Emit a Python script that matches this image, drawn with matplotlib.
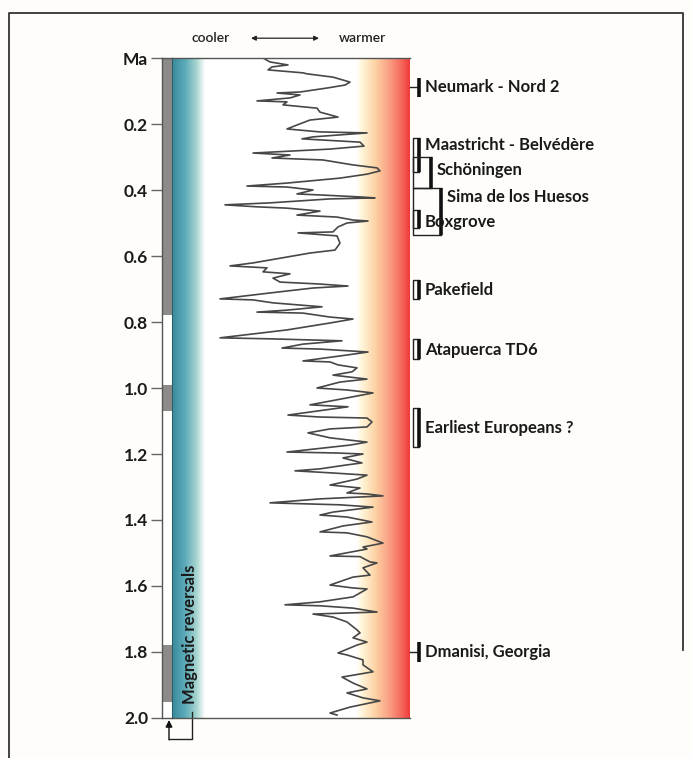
import numpy as np
import matplotlib.pyplot as plt
from matplotlib.colors import LinearSegmentedColormap
from matplotlib.lines import Line2D
import matplotlib.transforms as mtransforms

plt.rcParams['font.family'] = ['Lato', 'DejaVu Sans']

# benthic d18O record (age in ka, d18O per mil)
age_ka = [0, 12, 21, 27, 36, 45, 48, 58, 73, 82, 91, 103, 106, 112, 121, 130, 133, 142,
          152, 164, 179, 188, 203, 215, 224, 227, 239, 245, 255, 267, 276, 288, 294, 303,
          309, 324, 333, 342, 352, 364, 379, 388, 391, 400, 412, 415, 421, 424, 427, 439,
          445, 451, 455, 464, 476, 482, 491, 494, 500, 512, 527, 530, 539, 561, 582, 591,
          621, 630, 636, 648, 654, 667, 679, 685, 691, 697, 712, 730, 733, 742, 754, 764,
          770, 773, 785, 791, 803, 824, 848, 851, 857, 867, 879, 882, 891, 900, 918, 921,
          930, 939, 951, 961, 973, 982, 1000, 1006, 1015, 1030, 1051, 1057, 1082, 1088,
          1091, 1103, 1118, 1124, 1136, 1151, 1164, 1173, 1194, 1197, 1200, 1212, 1227,
          1233, 1245, 1251, 1257, 1264, 1276, 1294, 1303, 1318, 1321, 1327, 1336, 1348,
          1354, 1361, 1376, 1385, 1391, 1406, 1418, 1436, 1439, 1451, 1470, 1482, 1488,
          1509, 1511, 1527, 1530, 1545, 1567, 1573, 1597, 1606, 1609, 1633, 1648, 1657,
          1660, 1667, 1679, 1685, 1694, 1709, 1733, 1742, 1757, 1770, 1779, 1803, 1809,
          1824, 1839, 1860, 1876, 1894, 1912, 1924, 1939, 1948, 1967, 1985, 1991]
d18o = [4.39, 4.32, 4.14, 4.30, 4.34, 3.99, 3.95, 3.69, 3.52, 3.57, 3.75, 4.02, 4.25, 4.02,
        4.12, 4.45, 4.15, 4.19, 3.85, 3.82, 3.64, 3.92, 4.05, 4.15, 3.82, 3.35, 3.89, 4.00,
        3.42, 3.38, 3.72, 4.49, 4.12, 4.30, 3.79, 3.49, 3.25, 3.22, 3.35, 3.62, 4.15, 4.55,
        4.15, 3.89, 4.05, 3.82, 3.42, 3.27, 3.72, 4.32, 4.77, 4.45, 4.15, 3.82, 4.05, 3.65,
        3.49, 3.34, 3.55, 3.64, 3.69, 4.04, 3.65, 3.62, 3.67, 3.92, 4.49, 4.72, 4.35, 4.39,
        4.12, 4.29, 4.22, 3.82, 3.54, 3.89, 4.32, 4.82, 4.49, 4.29, 3.80, 4.15, 4.45, 3.99,
        3.72, 3.49, 3.72, 4.15, 4.82, 4.32, 3.60, 3.99, 4.20, 3.82, 3.34, 3.55, 3.99, 3.72,
        3.64, 3.45, 3.50, 3.69, 3.35, 3.62, 3.85, 3.55, 3.29, 3.55, 3.92, 3.54, 4.14, 3.82,
        3.35, 3.30, 3.35, 3.72, 3.94, 3.72, 3.35, 3.52, 4.15, 3.65, 3.39, 3.59, 3.40, 3.55,
        3.82, 4.07, 3.72, 3.35, 3.45, 3.72, 3.42, 3.55, 3.35, 3.19, 3.82, 4.32, 3.62, 3.29,
        3.69, 3.82, 3.55, 3.30, 3.59, 3.82, 3.55, 3.35, 3.19, 3.39, 3.35, 3.72, 3.42, 3.32,
        3.25, 3.39, 3.32, 3.49, 3.72, 3.49, 3.35, 3.49, 3.82, 4.17, 3.82, 3.49, 3.25, 3.89,
        3.69, 3.55, 3.45, 3.42, 3.49, 3.35, 3.45, 3.64, 3.55, 3.39, 3.39, 3.29, 3.60, 3.49,
        3.35, 3.55, 3.39, 3.22, 3.52, 3.72, 3.65]

# normal polarity chrons (Ma)
normal_start = [0.0, 0.99, 1.78]
normal_end = [0.78, 1.07, 1.95]

sites = ["Neumark - Nord 2", "Maastricht - Belvédère", "Schöningen", "Sima de los Huesos",
         "Boxgrove", "Pakefield", "Atapuerca TD6", "Earliest Europeans ?", "Dmanisi, Georgia"]
site_start = [0.061, 0.242, 0.300, 0.394, 0.460, 0.673, 0.852, 1.060, 1.770]
site_end = [0.118, 0.345, 0.394, 0.536, 0.515, 0.730, 0.912, 1.180, 1.830]
site_label_y = [0.088, 0.264, 0.339, 0.421, 0.497, 0.703, 0.884, 1.12, 1.80]
site_level = [0, 0, 1, 2, 0, 0, 0, 0, 0]
site_tick = [True, False, False, False, False, False, False, False, True]

ticks = [0, 0.2, 0.4, 0.6, 0.8, 1.0, 1.2, 1.4, 1.6, 1.8, 2.0]
tick_labels = ["Ma", "0.2", "0.4", "0.6", "0.8", "1.0", "1.2", "1.4", "1.6", "1.8", "2.0"]

W, H = 691, 758
bg = '#fefdfa'
fig = plt.figure(figsize=(W / 100, H / 100), dpi=100, facecolor=bg)

def box(x0, y0, x1, y1):
    return [x0 / W, 1 - y1 / H, (x1 - x0) / W, (y1 - y0) / H]

# outer frame
fig.add_artist(Line2D([9 / W, 9 / W, 683 / W, 683 / W], [0, 1 - 13 / H, 1 - 13 / H, 1 - 650 / H],
                      color='#333333', lw=1.3))

# magnetic reversal bar
axm = fig.add_axes(box(162, 58, 172, 718))
axm.set_facecolor('white')
for s, e in zip(normal_start, normal_end):
    axm.axhspan(s, e, color='#8d8a8a', lw=0)
axm.set_ylim(2.0, 0)
axm.set_xlim(0, 1)
axm.set_xticks([])
axm.set_yticks(ticks)
axm.set_yticklabels(tick_labels, fontsize=12.5, fontweight='bold', color='#1a1a1a')
axm.tick_params(axis='y', length=8, width=1, color='#666666', pad=2)
axm.spines['right'].set_visible(False)
for sp in ['left', 'top', 'bottom']:
    axm.spines[sp].set_color('#555555')
    axm.spines[sp].set_linewidth(1)

# main panel
ax = fig.add_axes(box(172, 58, 410, 718))
ax.set_facecolor('white')
x_left, x_right = 5.3, 2.92

blue = LinearSegmentedColormap.from_list('b', [(0, '#378a9c'), (0.4, '#5dabb9'),
                                              (0.75, '#a8d5d0'), (1, '#ffffff')])
red = LinearSegmentedColormap.from_list('r', [(0, '#ffffff'), (0.12, '#fff4d6'),
                                             (0.35, '#fdd4a6'), (0.6, '#faa386'),
                                             (0.85, '#f5675a'), (1, '#ee3a3a')])
grad = np.linspace(0, 1, 256)[None, :]
ax.imshow(grad, cmap=blue, aspect='auto', extent=(5.3, 4.97, 2.0, 0), zorder=0)
ax.imshow(grad, cmap=red, aspect='auto', extent=(3.46, 2.92, 2.0, 0), zorder=0)
ax.set_xlim(x_left, x_right)
ax.set_ylim(2.0, 0)

ax.plot(d18o, np.array(age_ka) / 1000, color='#474747', lw=1.2, zorder=2)

ax.set_xticks([])
ax.set_yticks([])
ax.spines['right'].set_visible(False)
ax.spines['left'].set_color('#2e5f69')
for sp in ['top', 'bottom']:
    ax.spines[sp].set_color('#555555')
    ax.spines[sp].set_linewidth(1)

trans = mtransforms.blended_transform_factory(ax.transAxes, ax.transData)
px = lambda p: (p - 172) / 238.0

# header
ax.text(px(211), 1.03, "cooler", transform=ax.transAxes, ha='center', va='center',
        fontsize=10, fontweight='semibold', color='#222222')
ax.text(px(362), 1.03, "warmer", transform=ax.transAxes, ha='center', va='center',
        fontsize=10, fontweight='semibold', color='#222222')
ax.annotate("", xy=(px(251), 1.03), xytext=(px(319), 1.03), xycoords='axes fraction',
            textcoords='axes fraction',
            arrowprops=dict(arrowstyle='<|-|>', color='#222222', lw=0.9,
                            mutation_scale=7, shrinkA=0, shrinkB=0))

# site brackets
level_x = [419, 431, 441]
for name, s, e, ly, lev, tk in zip(sites, site_start, site_end, site_label_y, site_level, site_tick):
    xv = px(level_x[lev])
    if tk:
        ax.plot([1.0, xv], [ly, ly], color='#222222', lw=1, transform=trans, clip_on=False)
    else:
        ax.plot([xv, px(412.5), px(412.5), xv], [s, s, e, e], color='#222222', lw=1,
                transform=trans, clip_on=False)
    ax.plot([xv, xv], [s, e], color='#111111', lw=2.6, transform=trans, clip_on=False,
            solid_capstyle='butt')
    ax.text(xv + px(178), ly, name, transform=trans, ha='left', va='center',
            fontsize=12, fontweight='bold', color='#1a1a1a')

# magnetic reversals label with arrow
ax.text(px(190), 1.745, "Magnetic reversals", transform=trans, rotation=90,
        ha='center', va='center', fontsize=12, fontweight='bold', color='#1a1a1a')
ax.plot([px(192), px(192), px(169)], [1.982, 2.064, 2.064], color='#222222', lw=1,
        transform=trans, clip_on=False)
ax.annotate("", xy=(px(169), 2.006), xytext=(px(169), 2.066), xycoords=trans,
            textcoords=trans,
            arrowprops=dict(arrowstyle='-|>', color='#111111', lw=1, mutation_scale=10,
                            shrinkA=0, shrinkB=0))

fig.savefig("out.png", dpi=100, facecolor=bg)
